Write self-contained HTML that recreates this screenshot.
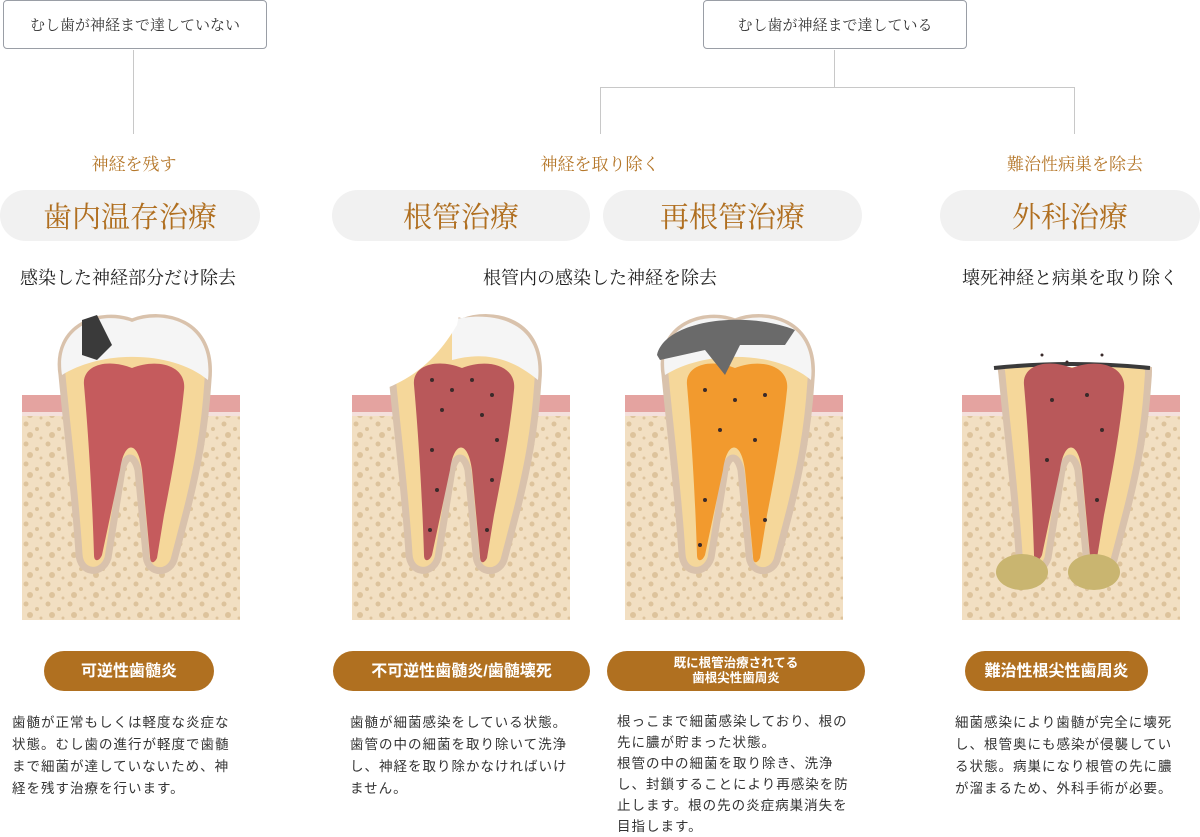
<!DOCTYPE html>
<html><head><meta charset="utf-8"><style>
body{margin:0;width:1200px;height:832px;background:#fff;position:relative;overflow:hidden;font-family:"Liberation Sans","Noto Sans CJK JP",sans-serif}
.a{position:absolute}
.box{border:1px solid #9a9ea6;border-radius:4px;height:49px;top:0;font-family:"Liberation Serif","Noto Serif CJK SC",serif;font-size:15px;color:#333;display:flex;align-items:center;justify-content:center;box-sizing:border-box}
.ln{background:#c8c8c8}
.or{font-family:"Liberation Serif","Noto Serif CJK SC",serif;font-size:17px;color:#b5772a;top:150px;text-align:center}
.pill{top:190px;height:51px;border-radius:26px;background:#f1f1f1;font-family:"Liberation Serif","Noto Serif CJK SC",serif;font-size:29px;color:#b06f20;display:flex;align-items:center;justify-content:center}
.sub{top:264px;font-family:"Liberation Serif","Noto Serif CJK SC",serif;font-size:18px;color:#222;text-align:center}
.bp{top:651px;height:40px;border-radius:20px;background:#b07020;color:#fff;font-weight:bold;font-size:16px;display:flex;align-items:center;justify-content:center;text-align:center;line-height:15px}
.tx{top:712px;font-size:13.5px;line-height:22px;color:#333;letter-spacing:1px;width:222px}
</style></head><body>
<div class="a box" style="left:3px;width:264px">むし歯が神経まで達していない</div>
<div class="a box" style="left:703px;width:264px">むし歯が神経まで達している</div>
<div class="a ln" style="left:133px;top:50px;width:1px;height:84px"></div>
<div class="a ln" style="left:834px;top:50px;width:1px;height:37px"></div>
<div class="a ln" style="left:600px;top:87px;width:475px;height:1px"></div>
<div class="a ln" style="left:600px;top:87px;width:1px;height:47px"></div>
<div class="a ln" style="left:1074px;top:87px;width:1px;height:47px"></div>
<div class="a or" style="left:34px;width:200px">神経を残す</div>
<div class="a or" style="left:500px;width:200px">神経を取り除く</div>
<div class="a or" style="left:975px;width:200px">難治性病巣を除去</div>
<div class="a pill" style="left:0;width:260px">歯内温存治療</div>
<div class="a pill" style="left:332px;width:258px">根管治療</div>
<div class="a pill" style="left:603px;width:259px">再根管治療</div>
<div class="a pill" style="left:940px;width:260px">外科治療</div>
<div class="a sub" style="left:0;width:256px">感染した神経部分だけ除去</div>
<div class="a sub" style="left:400px;width:400px">根管内の感染した神経を除去</div>
<div class="a sub" style="left:940px;width:260px">壊死神経と病巣を取り除く</div>

<svg class="a" style="left:0;top:300px" width="1200" height="330">
<defs>
<pattern id="dots" width="22" height="20" patternUnits="userSpaceOnUse">
<rect width="22" height="20" fill="#f2dfc2"/>
<circle cx="4" cy="4" r="2.5" fill="#ddc39c"/><circle cx="15" cy="9" r="2" fill="#ddc39c"/><circle cx="8" cy="15" r="3" fill="#ddc39c"/><circle cx="19" cy="18" r="1.5" fill="#ddc39c"/>
</pattern>
<path id="tooth" d="M40,75 C32,25 80,10 110,22 C140,10 192,20 186,80 C183,130 175,170 165,210 L152,260 C146,276 124,274 124,254 L116,170 C112,154 104,154 100,170 L86,258 C80,276 58,274 57,254 C53,190 45,130 40,75 Z"/>
<path id="pulp" d="M62,85 C60,65 85,58 110,68 C135,58 165,65 162,90 C158,130 150,175 142,215 L135,258 C132,264 128,264 128,256 L120,170 C116,140 102,140 98,170 L80,255 C77,262 72,262 72,255 C70,190 66,130 62,85 Z"/>
<g id="base"><rect x="0" y="95" width="218" height="225" fill="url(#dots)"/><rect x="0" y="95" width="218" height="20" fill="#e4a3a0"/><rect x="0" y="112" width="218" height="4" fill="#f4e0dc"/></g>
</defs>
<g transform="translate(22,0)"><use href="#base"/><use href="#tooth" fill="#f5d79a" stroke="#d9c2ac" stroke-width="7"/><path d="M40,75 C32,25 80,10 110,22 C140,10 192,20 186,80 C150,50 80,50 40,75Z" fill="#f5f5f5"/><use href="#pulp" fill="#c55b5d"/><path d="M60,20 L75,15 L90,45 L75,60 L60,55Z" fill="#3a3a3a"/></g>
<g transform="translate(352,0)"><use href="#base"/><use href="#tooth" fill="#f5d79a" stroke="#d9c2ac" stroke-width="7"/><path d="M100,20 C140,10 192,20 186,80 C150,50 120,55 100,60Z" fill="#f5f5f5"/><path d="M30,90 L30,0 L110,0 L105,25 C90,50 70,75 30,90 Z" fill="#fff"/><use href="#pulp" fill="#b9585a"/><g fill="#3a2a2a"><circle cx="80" cy="80" r="2"/><circle cx="100" cy="90" r="2"/><circle cx="120" cy="80" r="2"/><circle cx="140" cy="95" r="2"/><circle cx="90" cy="110" r="2"/><circle cx="130" cy="115" r="2"/><circle cx="80" cy="150" r="2"/><circle cx="145" cy="140" r="2"/><circle cx="85" cy="190" r="2"/><circle cx="140" cy="180" r="2"/><circle cx="78" cy="230" r="2"/><circle cx="135" cy="230" r="2"/></g></g>
<g transform="translate(625,0)"><use href="#base"/><use href="#tooth" fill="#f5d79a" stroke="#d9c2ac" stroke-width="7"/><path d="M40,75 C32,25 80,10 110,22 C140,10 192,20 186,80 C150,50 80,50 40,75Z" fill="#f5f5f5"/><use href="#pulp" fill="#f29a2e"/><path d="M32,55 C40,20 120,10 170,30 L160,45 L115,45 L100,75 L80,50 L35,60Z" fill="#6a6a6a"/><g fill="#3a2a2a"><circle cx="80" cy="90" r="2"/><circle cx="110" cy="100" r="2"/><circle cx="140" cy="95" r="2"/><circle cx="95" cy="130" r="2"/><circle cx="130" cy="140" r="2"/><circle cx="80" cy="200" r="2"/><circle cx="75" cy="245" r="2"/><circle cx="140" cy="220" r="2"/></g></g>
<g transform="translate(962,0)"><use href="#base"/><use href="#tooth" fill="#f5d79a" stroke="#d9c2ac" stroke-width="7"/><rect x="20" y="0" width="180" height="67" fill="#fff"/><path d="M32,68 Q110,60 188,68" stroke="#3a3a3a" stroke-width="4" fill="none"/><use href="#pulp" fill="#b9585a"/><g fill="#3a2a2a"><circle cx="80" cy="55" r="1.5"/><circle cx="105" cy="62" r="1.5"/><circle cx="140" cy="55" r="1.5"/><circle cx="90" cy="100" r="2"/><circle cx="125" cy="95" r="2"/><circle cx="140" cy="130" r="2"/><circle cx="85" cy="160" r="2"/><circle cx="135" cy="200" r="2"/></g><ellipse cx="60" cy="272" rx="26" ry="18" fill="#c9b570"/><ellipse cx="132" cy="272" rx="26" ry="18" fill="#c9b570"/></g>
</svg>

<div class="a bp" style="left:44px;width:170px">可逆性歯髄炎</div>
<div class="a bp" style="left:333px;width:257px">不可逆性歯髄炎/歯髄壊死</div>
<div class="a bp" style="left:607px;width:258px;font-size:12.5px">既に根管治療されてる<br>歯根尖性歯周炎</div>
<div class="a bp" style="left:965px;width:183px">難治性根尖性歯周炎</div>
<div class="a tx" style="left:12px">歯髄が正常もしくは軽度な炎症な状態。むし歯の進行が軽度で歯髄まで細菌が達していないため、神経を残す治療を行います。</div>
<div class="a tx" style="left:350px">歯髄が細菌感染をしている状態。歯管の中の細菌を取り除いて洗浄し、神経を取り除かなければいけません。</div>
<div class="a tx" style="left:617px;width:238px;top:711px;line-height:21px">根っこまで細菌感染しており、根の先に膿が貯まった状態。<br>根管の中の細菌を取り除き、洗浄し、封鎖することにより再感染を防止します。根の先の炎症病巣消失を目指します。</div>
<div class="a tx" style="left:955px">細菌感染により歯髄が完全に壊死し、根管奥にも感染が侵襲している状態。病巣になり根管の先に膿が溜まるため、外科手術が必要。</div>
</body></html>
